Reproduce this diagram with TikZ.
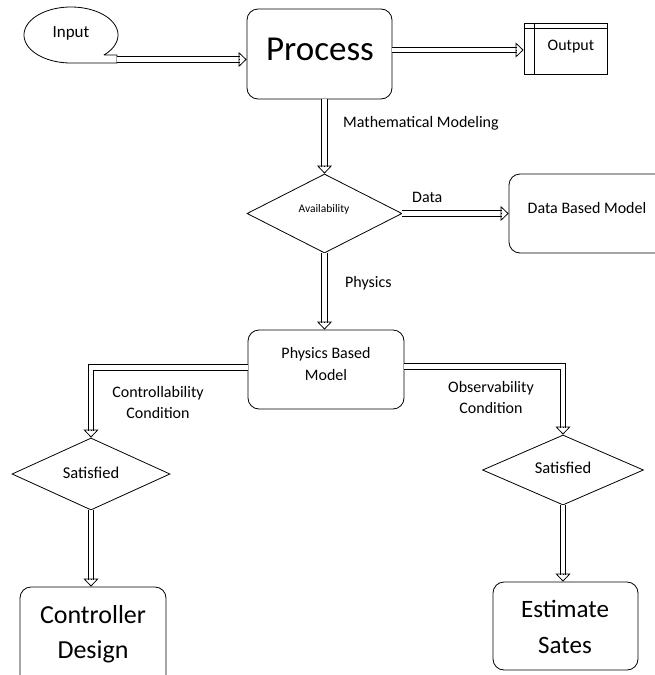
\documentclass[tikz,border=0pt]{standalone}
\usepackage{fontspec}
\setmainfont{Carlito}
\usetikzlibrary{shapes.geometric, arrows.meta, calc}
\begin{document}
\begin{tikzpicture}[x=1pt,y=-1pt,
  box/.style={draw, line width=0.8pt, rounded corners=11pt, inner sep=0pt},
  plainbox/.style={draw, line width=0.8pt, inner sep=0pt},
  dia/.style={draw, diamond, line width=0.8pt, inner sep=0pt},
  shaft/.style={draw, line width=0.75pt, double=white, double distance=4.6pt, shorten >=7pt},
  tip/.style={line width=0.75pt, -{Triangle[open, length=8pt, width=15pt]}},
  txt/.style={inner sep=0pt, align=center},
  lbl/.style={inner sep=0pt, align=center, font=\fontsize{16}{21}\selectfont},
]
\clip (0,0) rectangle (655,675);
% shapes
\draw[line width=0.8pt] plot[domain=45.6:-270, samples=120, smooth] ({71+47*cos(\x)}, {35+28*sin(\x)})
   -- (117,63) -- (117,55) -- (104,55);
\coordinate (tail) at (117,59.5);
\node[txt, font=\fontsize{17}{20}\selectfont] (input) at (71,33) {Input};

\node[box, minimum width=145pt, minimum height=90pt] (proc) at (319.5,54) {};
\node[txt, font=\fontsize{35}{40}\selectfont] (proct) at (320,49) {Process};

\node[plainbox, minimum width=83pt, minimum height=51pt] (out) at (565.5,48.5) {};
\draw[line width=0.8pt] ($(out.north west)+(11,0)$) -- ($(out.south west)+(11,0)$);
\draw[line width=0.8pt] ($(out.north west)+(0,6)$) -- ($(out.north east)+(0,6)$);
\node[txt, font=\fontsize{16}{19}\selectfont] (outt) at (571,47) {Output};

\node[dia, minimum width=155pt, minimum height=79pt] (avail) at (324.5,213.5) {};
\node[txt, font=\fontsize{11.5}{13}\selectfont] (availt) at (324,209) {Availability};

\node[box, minimum width=171pt, minimum height=79pt] (dbm) at (594.5,213.5) {};
\node[txt, font=\fontsize{16}{19}\selectfont] (dbmt) at (587,208) {Data Based Model};

\node[box, minimum width=156pt, minimum height=79pt] (pbm) at (326,369.5) {};
\node[txt, font=\fontsize{16}{22}\selectfont] (pbmt) at (326,364) {Physics Based\\Model};

\node[dia, minimum width=158pt, minimum height=72pt] (sat1) at (91,474) {};
\node[txt, font=\fontsize{16.5}{19}\selectfont] (sat1t) at (91,473) {Satisfied};
\node[dia, minimum width=161pt, minimum height=70pt] (sat2) at (563,470) {};
\node[txt, font=\fontsize{16.5}{19}\selectfont] (sat2t) at (563,468) {Satisfied};

\node[box, minimum width=146pt, minimum height=103pt] (cd) at (93,638.5) {};
\node[txt, font=\fontsize{26}{35}\selectfont] (cdt) at (93,634.5) {Controller\\Design};
\node[box, minimum width=145pt, minimum height=88pt] (es) at (565.5,626) {};
\node[txt, font=\fontsize{25}{36}\selectfont] (est) at (565,627) {Estimate\\Sates};

% labels
\node[lbl, anchor=west] (lmm) at (343,123) {Mathematical Modeling};
\node[lbl, anchor=west] (ldata) at (412,197) {Data};
\node[lbl, anchor=west] (lphys) at (345,283) {Physics};
\node[lbl] (lctrl) at (158,402) {Controllability\\Condition};
\node[lbl] (lobs) at (491,397) {Observability\\Condition};

% arrows
\draw[shaft] (tail) -- (tail -| proc.west);
\draw[tip] ($(tail -| proc.west)+(-8,0)$) -- (tail -| proc.west);

\coordinate (pe) at ($(proc.east)+(0,-4)$);
\draw[shaft] (pe) -- (pe -| out.west);
\draw[tip] ($(pe -| out.west)+(-8,0)$) -- (pe -| out.west);

\draw[shaft] (avail.north |- proc.south) -- (avail.north);
\draw[tip] ($(avail.north)+(0,-8)$) -- (avail.north);

\draw[shaft] (avail.east) -- (avail.east -| dbm.west);
\draw[tip] ($(avail.east -| dbm.west)+(-8,0)$) -- (avail.east -| dbm.west);

\draw[shaft] (avail.south) -- (avail.south |- pbm.north);
\draw[tip] ($(avail.south |- pbm.north)+(0,-8)$) -- (avail.south |- pbm.north);

\draw[shaft] ($(pbm.west)+(0,-2)$) -| (sat1.north);
\draw[tip] ($(sat1.north)+(0,-8)$) -- (sat1.north);

\draw[shaft] ($(pbm.east)+(0,-3)$) -| (sat2.north);
\draw[tip] ($(sat2.north)+(0,-8)$) -- (sat2.north);

\draw[shaft] (sat1.south) -- (sat1.south |- cd.north);
\draw[tip] ($(sat1.south |- cd.north)+(0,-8)$) -- (sat1.south |- cd.north);

\draw[shaft] (sat2.south) -- (sat2.south |- es.north);
\draw[tip] ($(sat2.south |- es.north)+(0,-8)$) -- (sat2.south |- es.north);
\end{tikzpicture}
\end{document}
